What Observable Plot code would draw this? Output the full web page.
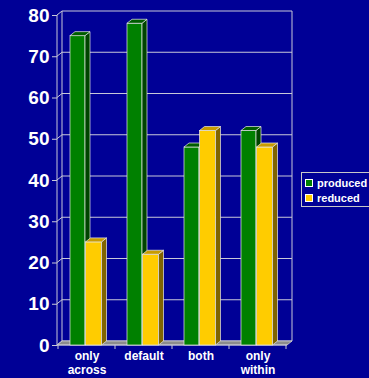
<!DOCTYPE html>
<html><head><meta charset="utf-8">
<script src="https://cdn.jsdelivr.net/npm/d3@7"></script>
<script src="https://cdn.jsdelivr.net/npm/@observablehq/plot@0.6"></script>
<style>
html,body{margin:0;padding:0;background:#000096;}
#wrap{position:relative;width:369px;height:378px;overflow:hidden;}
#legend{position:absolute;left:301px;top:172px;width:72px;height:35px;border:1px solid #c8c8c8;box-sizing:border-box;font:bold 11px Arial,"Liberation Sans",sans-serif;color:#fff;}
#legend .item{position:absolute;left:3px;height:14px;line-height:14px;white-space:nowrap;}
#legend .sw{display:inline-block;width:6px;height:6px;border:1px solid #fff;margin-right:4px;vertical-align:0px;}
</style></head>
<body><div id="wrap"></div>
<script>
const categories = ["only across", "default", "both", "only within"];
const categoryLabels = ["only\nacross", "default", "both", "only\nwithin"];
const seriesNames = ["produced", "reduced"];
const producedValues = [75, 78, 48, 52];
const reducedValues = [25, 22, 52, 48];
const yTicks = [0, 10, 20, 30, 40, 50, 60, 70, 80];

const colors = {
  produced: {front: "#008000", top: "#005c00", side: "#004400"},
  reduced: {front: "#ffcc00", top: "#c89c00", side: "#806400"}
};
const insets = {produced: [12, 30], reduced: [27.5, 13.5]};
const DX = 5, DY = -4;

const data = categories.flatMap((c, i) => [
  {category: c, series: "produced", value: producedValues[i]},
  {category: c, series: "reduced", value: reducedValues[i]}
]);

function walls(index, scales, values, dim) {
  const x = scales.x, y = scales.y;
  const l = dim.marginLeft, r = dim.width - dim.marginRight;
  const yb = y(0), yt = y(80);
  const g = d3.create("svg:g").attr("fill", "none");
  const line = "#c8c8d8";
  for (const v of yTicks) {
    g.append("line").attr("x1", l + DX).attr("x2", r + DX).attr("y1", y(v) + DY).attr("y2", y(v) + DY).attr("stroke", line);
    g.append("line").attr("x1", l).attr("x2", l + DX).attr("y1", y(v)).attr("y2", y(v) + DY).attr("stroke", line);
  }
  g.append("line").attr("x1", l + DX).attr("x2", l + DX).attr("y1", yt + DY).attr("y2", yb + DY).attr("stroke", line);
  g.append("line").attr("x1", r + DX).attr("x2", r + DX).attr("y1", yt + DY).attr("y2", yb + DY).attr("stroke", line);
  g.append("path").attr("d", `M${l},${yb}L${l + DX},${yb + DY}L${r + DX},${yb + DY}L${r},${yb}Z`).attr("fill", "#8c8c8c").attr("stroke", "#d0d0d0").attr("stroke-width", 0.8);
  g.append("line").attr("x1", l).attr("x2", l).attr("y1", yt).attr("y2", yb).attr("stroke", line);
  g.append("line").attr("x1", l).attr("x2", r).attr("y1", yb).attr("y2", yb).attr("stroke", line);
  const step = x(categories[1]) - x(categories[0]);
  for (let i = 0; i <= categories.length; i++) {
    const xx = x(categories[0]) + i * step;
    g.append("line").attr("x1", xx).attr("x2", xx).attr("y1", yb).attr("y2", yb + 4).attr("stroke", line);
  }
  return g.node();
}

function faces(series) {
  return (index, scales, values, dim) => {
    const x = scales.x, y = scales.y;
    const step = x(categories[1]) - x(categories[0]);
    const [il, ir] = insets[series];
    const g = d3.create("svg:g").attr("stroke", "#e8e8e8").attr("stroke-width", 0.7).attr("stroke-linejoin", "round");
    for (const d of data.filter(d => d.series === series)) {
      const x0 = x(d.category) + il, x1 = x(d.category) + step - ir;
      const yt = y(d.value), yb = y(0);
      g.append("path").attr("d", `M${x1},${yt}L${x1 + DX},${yt + DY}L${x1 + DX},${yb + DY}L${x1},${yb}Z`).attr("fill", colors[series].side);
      g.append("path").attr("d", `M${x0},${yt}L${x0 + DX},${yt + DY}L${x1 + DX},${yt + DY}L${x1},${yt}Z`).attr("fill", colors[series].top);
    }
    return g.node();
  };
}

function bars(series) {
  const [il, ir] = insets[series];
  return Plot.barY(data.filter(d => d.series === series), {
    x: "category", y: "value", fill: colors[series].front,
    insetLeft: il, insetRight: ir, stroke: "#e8e8e8", strokeWidth: 0.7
  });
}

const chart = Plot.plot({
  width: 369, height: 378,
  marginLeft: 57, marginRight: 82, marginTop: 15, marginBottom: 33,
  style: {background: "#000096", color: "white", fontFamily: "Arial, 'Liberation Sans', sans-serif", fontWeight: "bold"},
  x: {domain: categories, padding: 0, label: null},
  y: {domain: [0, 80], label: null},
  marks: [
    walls,
    bars("produced"), faces("produced"),
    bars("reduced"), faces("reduced"),
    Plot.axisY({ticks: yTicks, tickSize: 5, tickPadding: 3, fontSize: 19, fontWeight: "bold", label: null, stroke: "#c8c8d8"}),
    Plot.axisX({tickSize: 0, tickPadding: 4, fontSize: 12, fontWeight: "bold", lineHeight: 1.2, label: null,
      tickFormat: d => categoryLabels[categories.indexOf(d)]})
  ]
});
document.getElementById("wrap").appendChild(chart);

const legend = document.createElement("div");
legend.id = "legend";
seriesNames.forEach((s, i) => {
  const item = document.createElement("div");
  item.className = "item";
  item.style.top = (3 + i * 15) + "px";
  const sw = document.createElement("span");
  sw.className = "sw";
  sw.style.background = colors[s].front;
  item.appendChild(sw);
  item.appendChild(document.createTextNode(s));
  legend.appendChild(item);
});
document.getElementById("wrap").appendChild(legend);
</script></body></html>
